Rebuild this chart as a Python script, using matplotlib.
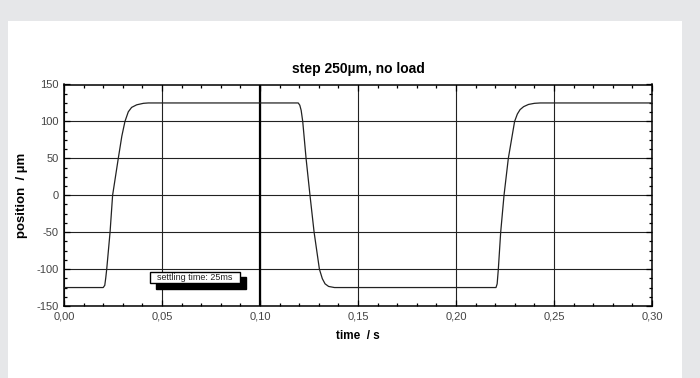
import matplotlib
matplotlib.use("Agg")
import matplotlib.pyplot as plt
from matplotlib.patches import Rectangle
from matplotlib.ticker import MultipleLocator, FuncFormatter

plt.rcParams['font.family'] = ['Liberation Sans', 'DejaVu Sans']

# Measured step response (time in s, position in µm)
time_s = [0.0, 0.0200, 0.0208, 0.0213, 0.0218, 0.0235, 0.0248, 0.0277, 0.0295,
          0.0311, 0.0328, 0.0345, 0.0371, 0.0405, 0.0430,
          0.1195, 0.1203, 0.1210, 0.1218, 0.1235, 0.1255, 0.1276, 0.1303,
          0.1318, 0.1332, 0.1350, 0.1380,
          0.2204, 0.2210, 0.2216, 0.2228, 0.2245, 0.2267, 0.2299, 0.2313,
          0.2327, 0.2345, 0.2370, 0.2400, 0.2430, 0.3000]
position_um = [-125, -125, -122, -112, -100, -50, 0, 50, 80,
               100, 113, 119, 122.5, 124.5, 125,
               125, 122, 115, 100, 50, 0, -50, -100,
               -113, -120, -123.5, -125,
               -125, -120, -100, -50, 0, 50, 100, 110,
               116, 120, 123, 124.5, 125, 125]

title = "step 250µm, no load"
x_label = "time  / s"
y_label = "position  / µm"
note = "settling time: 25ms"

fig = plt.figure(figsize=(7.0, 3.78), dpi=100)
fig.patch.set_facecolor('#e6e7e9')
fig.patches.append(Rectangle((8 / 700, 0), (682 - 8) / 700, (378 - 21) / 378,
                             transform=fig.transFigure, facecolor='white',
                             edgecolor='none', zorder=-10))

ax = fig.add_axes([64 / 700, 1 - 306 / 378, 588 / 700, (306 - 84.5) / 378])
ax.set_zorder(1)
ax.set_xlim(0, 0.30)
ax.set_ylim(-150, 150)

ax.xaxis.set_major_locator(MultipleLocator(0.05))
ax.xaxis.set_minor_locator(MultipleLocator(0.01))
ax.yaxis.set_major_locator(MultipleLocator(50))
ax.yaxis.set_minor_locator(MultipleLocator(12.5))
ax.xaxis.set_major_formatter(FuncFormatter(lambda v, p: f"{v:.2f}".replace('.', ',')))
ax.yaxis.set_major_formatter(FuncFormatter(lambda v, p: f"{v:.0f}"))

ax.tick_params(which='both', direction='in', top=True, right=True,
               color='black', width=0.9)
ax.tick_params(which='major', length=4, labelsize=8, labelcolor='#444444', pad=4)
ax.tick_params(which='minor', length=2.5)
for s in ax.spines.values():
    s.set_linewidth(1.1)
    s.set_color('black')

ax.grid(True, which='major', color='#222222', linewidth=0.8)
ax.axvline(0.10, color='black', linewidth=1.6, zorder=2)

ax.plot(time_s, position_um, color='#222222', linewidth=0.9, zorder=3)

ax.set_title(title, fontsize=10, fontweight='bold', pad=8)
ax.set_xlabel(x_label, fontsize=8.5, fontweight='bold', labelpad=6)
ax.set_ylabel(y_label, fontsize=9.5, fontweight='bold', labelpad=6)

# annotation box with drop shadow
ax.add_patch(Rectangle((0.0470, -126.5), 0.0459, 15.5, facecolor='black',
                       edgecolor='black', zorder=4))
ax.add_patch(Rectangle((0.0439, -119), 0.0459, 15, facecolor='white',
                       edgecolor='black', linewidth=1, zorder=5))
ax.text(0.0668, -111.5, note, fontsize=6.5, ha='center', va='center',
        color='#222222', zorder=6)

fig.savefig("out.png", dpi=100, facecolor=fig.get_facecolor())
